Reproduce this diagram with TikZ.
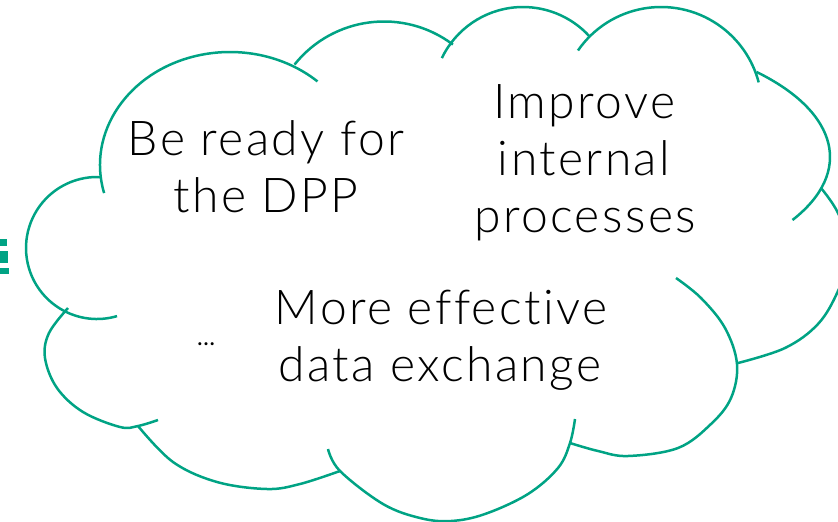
\documentclass[tikz,border=0pt]{standalone}
\usepackage{fontspec}
\newfontfamily\cloudfont{Lato Light}[Ligatures=NoCommon, LetterSpace=5]
\newfontfamily\dotfont{Lato}
\definecolor{cloudgreen}{RGB}{0,163,132}
\begin{document}
\begin{tikzpicture}[x=1pt,y=-1pt,
  lobe/.style={draw=cloudgreen, line width=2.5pt},
  lbl/.style={font=\cloudfont\fontsize{48}{55}\selectfont, inner sep=0pt, anchor=base, text=black},
  small/.style={font=\dotfont\fontsize{24}{28}\selectfont, inner sep=0pt, anchor=base, text=black}]
\useasboundingbox (0,0) rectangle (838,522);
\clip (0,0) rectangle (838,522);
% cloud lobes (arcs)
\draw[lobe] ([shift={(97,248)}]73.6:71) arc[start angle=73.6, end angle=272.4, radius=71];
\draw[lobe] ([shift={(230,165)}]165.6:130 and 113) arc[start angle=165.6, end angle=312.3, x radius=130, y radius=113];
\draw[lobe] ([shift={(384,136)}]218.6:114.5) arc[start angle=218.6, end angle=307, radius=114.5];
\draw[lobe] ([shift={(523,97)}]205.6:90) arc[start angle=205.6, end angle=317.6, radius=90];
\draw[lobe] ([shift={(661,108)}]214.7:101) arc[start angle=214.7, end angle=345.3, radius=101];
\draw[lobe] ([shift={(550,157)}]-42.5:280 and 126) arc[start angle=-42.5, end angle=30, x radius=280, y radius=126];
% cloud lobes (curves)
\draw[lobe] plot[smooth, tension=0.6] coordinates {(821,188) (838,213) (851,252) (838,291) (818,324) (785,348) (738,363)};
\draw[lobe] plot[smooth, tension=0.6] coordinates {(676,278) (701,298) (725,328) (737,364) (731,398) (711,424) (678,448) (628,456) (598,451) (570,443)};
\draw[lobe] plot[smooth, tension=0.6] coordinates {(575,419) (570,443) (558,468) (528,494) (485,514) (451,521) (420,518) (383,504) (340,471) (328,449)};
\draw[lobe] plot[smooth, tension=0.6] coordinates {(340,471) (300,484) (267,489) (217,482) (173,462) (138,426)};
\draw[lobe] plot[smooth, tension=0.6] coordinates {(158,420) (138,426) (120,427) (83,412) (57,388) (45,358) (49,333) (68,308)};
% clipped green marks at left edge
\fill[cloudgreen] (0,239) rectangle (7,246);
\fill[cloudgreen] (0,251) rectangle (8,263);
\fill[cloudgreen] (0,268) rectangle (9,274);
% texts
\node[lbl] (be1) at (266,155) {Be ready for};
\node[lbl] (be2) at (266,212) {the DPP};
\node[lbl] (im1) at (584,118) {Improve};
\node[lbl] (im2) at (584,175) {internal};
\node[lbl] (im3) at (585,232) {processes};
\node[lbl] (mo1) at (441,324) {More effective};
\node[lbl] (mo2) at (440,381) {data exchange};
\node[small] (dots) at (206,345) {…};
\end{tikzpicture}
\end{document}
